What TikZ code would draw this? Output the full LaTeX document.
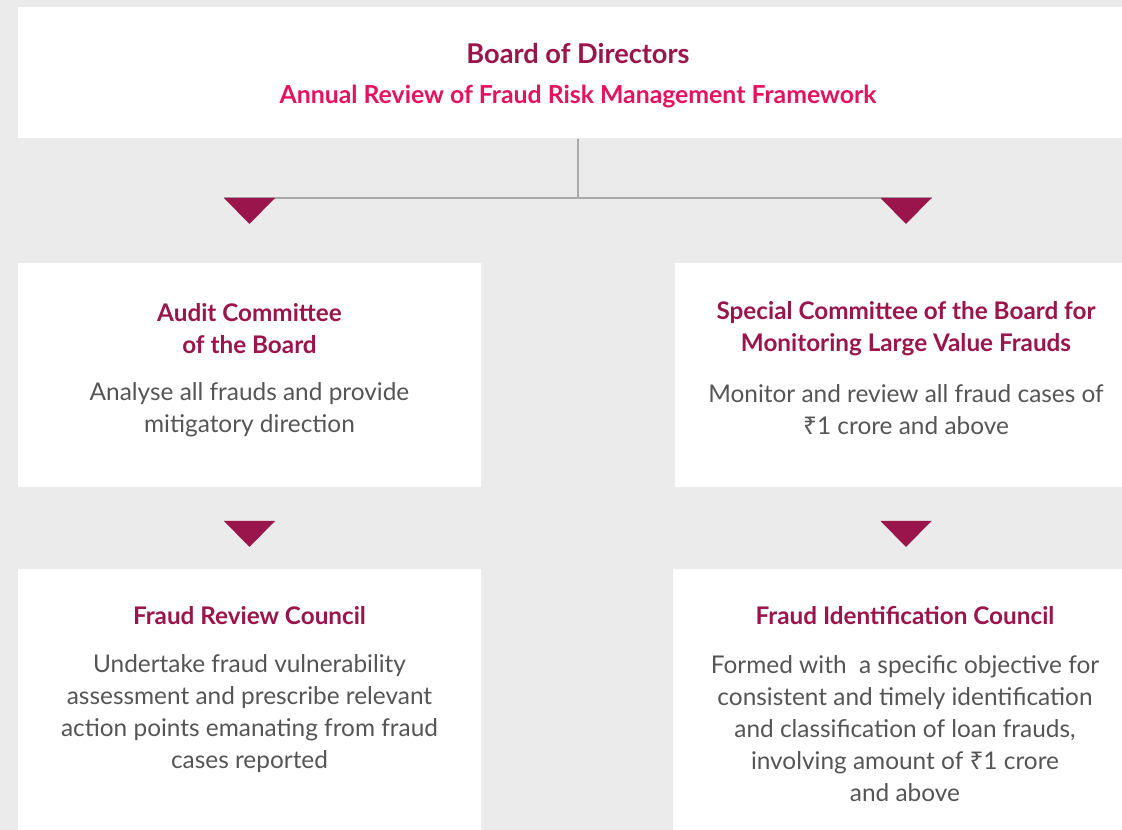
\documentclass[tikz,border=0pt]{standalone}
\usepackage{fontspec}
\setmainfont{Lato}
\newfontfamily\rupeefont{Noto Sans}
\newcommand{\rupee}{{\rupeefont ₹}}
\usetikzlibrary{calc}

\definecolor{wine}{HTML}{99154B}
\definecolor{rose}{HTML}{E5125F}
\definecolor{bodygray}{HTML}{555555}
\definecolor{canvas}{HTML}{EBEBEB}
\definecolor{rulegray}{HTML}{A9A9A9}

\tikzset{
  panel/.style={fill=white, inner sep=0pt, anchor=north west},
  headline/.style={text=wine, font=\bfseries\fontsize{18.2}{24}\selectfont, align=center},
  bodytext/.style={text=bodygray, font=\fontsize{18.3}{24}\selectfont, align=center},
  link/.style={draw=rulegray, line width=1.1pt}
}
% downward marker below a coordinate
\newcommand{\marker}[1]{\fill[wine] ($(#1)+(-25.5,0)$) -- ++(51,0) -- ++(-25.5,26) -- cycle;}

\begin{document}
\begin{tikzpicture}[x=0.75pt,y=-0.75pt]
      \fill[canvas] (0,0) rectangle (1122,830);
      \useasboundingbox (0,0) rectangle (1122,830);

      % panels
      \node[panel, minimum width=828pt, minimum height=98.25pt] (BD) at (18,7) {};
      \node[panel, minimum width=347.25pt, minimum height=168pt] (AC) at (18,263) {};
      \node[panel, minimum width=335.25pt, minimum height=168pt] (SC) at (675,263) {};
      \node[panel, minimum width=347.25pt, minimum height=195.75pt] (FRC) at (18,569) {};
      \node[panel, minimum width=336.75pt, minimum height=195.75pt] (FIC) at (673,569) {};

      % texts
      \node[headline, font=\bfseries\fontsize{20.4}{24}\selectfont] (BDtitle) at (578,53.5) {Board of Directors};
      \node[headline, text=rose, font=\bfseries\fontsize{18.6}{24}\selectfont] (BDsub) at (578,97)
            {Annual Review of Fraud Risk Management Framework};

      \node[headline] (ACtitle) at (249.5,328.5) {Audit Committee\\of the Board};
      \node[bodytext] (ACtext) at (249.5,410) {Analyse all frauds and provide\\mitigatory direction};

      \node[headline] (SCtitle) at (906,328.5) {Special Committee of the Board for\\Monitoring Large Value Frauds};
      \node[bodytext] (SCtext) at (906,410) {Monitor and review all fraud cases of\\\rupee1 crore and above};

      \node[headline] (FRCtitle) at (249.5,615.5) {Fraud Review Council};
      \node[bodytext] (FRCtext) at (249.5,713.5) {Undertake fraud vulnerability\\
            assessment and prescribe relevant\\action points emanating from fraud\\cases reported};

      \node[headline] (FICtitle) at (905,615.5) {Fraud Identification Council};
      \node[bodytext] (FICtext) at (905,729) {Formed with\ \ a specific objective for\\
            consistent and timely identification\\and classification of loan frauds,\\
            involving amount of \rupee1 crore\\and above};

      % connectors
      \coordinate (split) at (578,198);
      \coordinate (leftarm) at (249.5,198);
      \coordinate (rightarm) at (906,198);
      \coordinate (leftlow) at (249.5,521);
      \coordinate (rightlow) at (906,521);
      \draw[link] (split |- BD.south) -- (split);
      \draw[link] ($(leftarm)+(-25.5,0)$) -- ($(rightarm)+(25.5,0)$);

      \marker{leftarm}
      \marker{rightarm}
      \marker{leftlow}
      \marker{rightlow}
    \end{tikzpicture}
\end{document}
